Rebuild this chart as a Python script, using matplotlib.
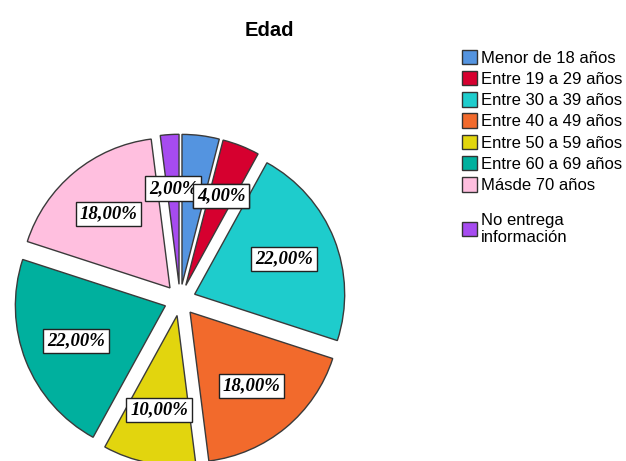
"""Gráfico de torta: distribución por edad."""

import matplotlib.pyplot as plt
from matplotlib.patches import Patch

CATEGORIES = [
    "Menor de 18 años",
    "Entre 19 a 29 años",
    "Entre 30 a 39 años",
    "Entre 40 a 49 años",
    "Entre 50 a 59 años",
    "Entre 60 a 69 años",
    "Másde 70 años",
    "No entrega\ninformación",
]
PERCENTS = [4, 4, 22, 18, 10, 22, 18, 2]
COLORS = ["#5494e0", "#d6002f", "#1ecccc", "#f26a2c", "#e2d50e", "#00b09e", "#ffbfdf", "#a64bf0"]


def main() -> None:
    fig = plt.figure(figsize=(6.26, 4.61), dpi=100)
    ax = fig.add_axes([0, 0, 1, 1])

    wedges, _, autotexts = ax.pie(
        PERCENTS,
        colors=COLORS,
        explode=[0.105] * len(PERCENTS),
        startangle=90,
        counterclock=False,
        autopct=lambda p: f"{p:.2f}%".replace(".", ","),
        pctdistance=0.64,
        wedgeprops=dict(edgecolor="#3a3a3a", linewidth=1.0),
        textprops=dict(family="Liberation Serif", weight="bold", style="italic", fontsize=13.5),
    )
    for t in autotexts:
        t.set_bbox(dict(boxstyle="square,pad=0.2", fc="white", ec="#222222", lw=1.0))
    # como en SPSS: la etiqueta del sector azul queda tapada por la del rojo
    autotexts[0].set_position(autotexts[1].get_position())
    autotexts[0].set_zorder(3)
    autotexts[7].set_zorder(4)
    autotexts[1].set_zorder(5)

    ax.set_xlim(-1.2, 2.973)
    ax.set_ylim(-1.073, 2.0)
    ax.set_aspect("equal")
    ax.axis("off")

    fig.text(269 / 626, 1 - 31 / 461, "Edad", ha="center", va="center",
             family="Liberation Sans", weight="bold", fontsize=14.5)

    handles = [Patch(facecolor=c, edgecolor="#333333", linewidth=1.0) for c in COLORS]
    legend_kw = dict(
        loc="upper left",
        frameon=False,
        handlelength=0.95,
        handleheight=0.95,
        handletextpad=0.2,
        labelspacing=0.32,
        borderaxespad=0,
        prop=dict(family="Liberation Sans", size=12),
    )
    fig.legend(handles[:7], CATEGORIES[:7], bbox_to_anchor=(455 / 626, 1 - 43 / 461), **legend_kw)
    fig.legend(handles[7:], CATEGORIES[7:], bbox_to_anchor=(455 / 626, 1 - 206 / 461), **legend_kw)

    fig.savefig("out.png", dpi=100)
    plt.close(fig)


if __name__ == "__main__":
    main()
